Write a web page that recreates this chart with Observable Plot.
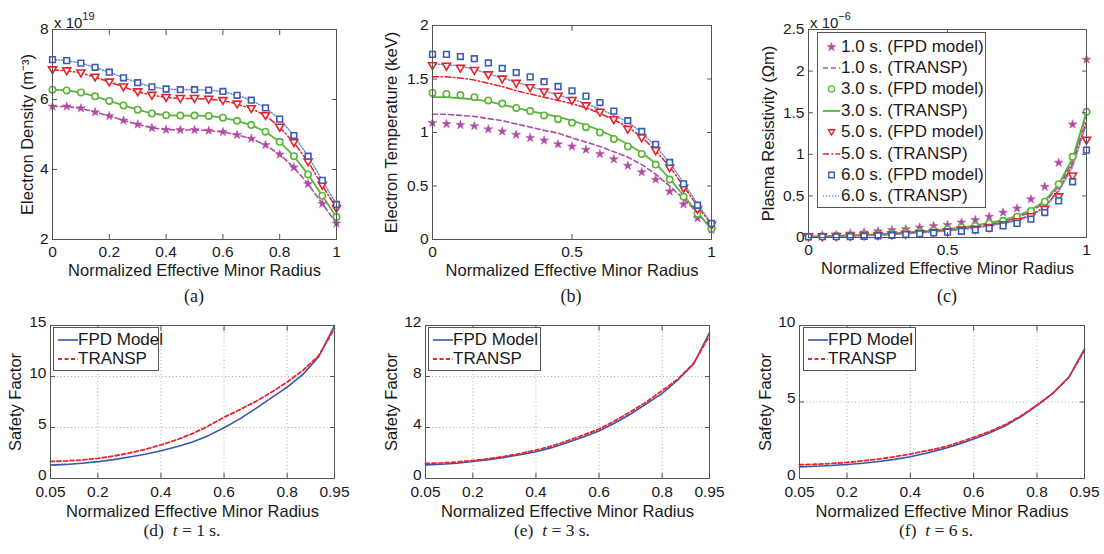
<!DOCTYPE html>
<html><head><meta charset="utf-8">
<script src="https://cdn.jsdelivr.net/npm/d3@7"></script>
<script src="https://cdn.jsdelivr.net/npm/@observablehq/plot@0.6"></script>
<style>
body{margin:0;background:#fff;}
#root{position:relative;width:1104px;height:554px;overflow:hidden;font-family:"Liberation Sans",Arial,Helvetica,sans-serif;color:#1a1a1a;}
.cap{position:absolute;font-family:"Liberation Serif","Times New Roman",serif;font-size:18px;transform:translate(-50%,-50%);white-space:nowrap;}
.exp{position:absolute;font-size:15px;white-space:nowrap;line-height:1;}
.exp sup{font-size:11px;position:relative;top:-2px;}
.legend{position:absolute;border:1px solid #555;background:#fff;box-sizing:border-box;font-size:17px;}
.legend .row{display:flex;align-items:center;white-space:nowrap;}
.legend svg{flex:none;}
</style></head><body><div id="root"></div><script>
// ---------- data ----------
const radius = [0,0.05,0.1,0.15,0.2,0.25,0.3,0.35,0.4,0.45,0.5,0.55,0.6,0.65,0.7,0.75,0.8,0.85,0.9,0.95,1];
const radiusQ = [0.05,0.1,0.15,0.2,0.25,0.3,0.35,0.4,0.45,0.5,0.55,0.6,0.65,0.7,0.75,0.8,0.85,0.9,0.95];

// (a) electron density, x 1e19 m^-3
const dens1 = [5.80,5.80,5.75,5.64,5.53,5.40,5.29,5.19,5.14,5.13,5.13,5.11,5.07,4.99,4.88,4.70,4.43,4.06,3.59,3.02,2.46];
const dens3 = [6.28,6.26,6.20,6.09,5.96,5.83,5.71,5.60,5.55,5.54,5.54,5.53,5.48,5.39,5.27,5.08,4.79,4.38,3.86,3.25,2.64];
const dens5 = [6.85,6.82,6.76,6.64,6.50,6.36,6.22,6.12,6.06,6.03,6.03,6.01,5.97,5.87,5.74,5.54,5.21,4.77,4.22,3.55,2.89];
const dens6 = [7.14,7.11,7.04,6.92,6.78,6.62,6.48,6.36,6.30,6.28,6.28,6.27,6.23,6.12,5.98,5.76,5.44,4.97,4.38,3.69,3.00];

// (b) electron temperature, keV
const temp1 = [1.09,1.08,1.07,1.06,1.03,1.01,0.98,0.95,0.925,0.89,0.87,0.84,0.80,0.75,0.69,0.63,0.56,0.45,0.33,0.20,0.09];
const temp3 = [1.37,1.36,1.35,1.33,1.30,1.27,1.23,1.20,1.16,1.125,1.09,1.05,1.00,0.94,0.87,0.80,0.70,0.56,0.40,0.24,0.10];
const temp5 = [1.625,1.62,1.60,1.58,1.54,1.50,1.46,1.42,1.38,1.34,1.30,1.25,1.19,1.12,1.03,0.95,0.83,0.67,0.48,0.28,0.135];
const temp6 = [1.73,1.73,1.71,1.69,1.65,1.60,1.56,1.52,1.475,1.43,1.39,1.34,1.28,1.20,1.11,1.01,0.89,0.72,0.52,0.32,0.15];
const tempT1 = [1.17,1.17,1.16,1.15,1.13,1.11,1.08,1.05,1.02,0.995,0.95,0.91,0.87,0.82,0.77,0.70,0.61,0.50,0.38,0.25,0.10];
const tempT3 = [1.33,1.33,1.32,1.31,1.29,1.26,1.23,1.20,1.175,1.145,1.11,1.07,1.02,0.96,0.89,0.81,0.71,0.57,0.41,0.25,0.10];
const tempT5 = [1.52,1.52,1.51,1.49,1.46,1.43,1.39,1.36,1.33,1.30,1.27,1.23,1.18,1.12,1.05,0.96,0.83,0.68,0.50,0.31,0.14];
const tempT6 = [1.64,1.635,1.62,1.59,1.55,1.51,1.47,1.43,1.39,1.35,1.31,1.27,1.22,1.16,1.10,1.00,0.87,0.72,0.53,0.33,0.15];

// (c) plasma resistivity, x 1e-6 Ohm m
const res1 = [0.01,0.025,0.03,0.05,0.06,0.075,0.09,0.10,0.12,0.14,0.15,0.18,0.21,0.25,0.30,0.35,0.46,0.61,0.90,1.36,2.14];
const res3 = [0.01,0.015,0.02,0.025,0.03,0.04,0.05,0.06,0.07,0.085,0.10,0.12,0.14,0.17,0.20,0.25,0.32,0.43,0.64,0.97,1.51];
const res5 = [0.01,0.01,0.012,0.015,0.02,0.025,0.03,0.04,0.05,0.06,0.07,0.09,0.10,0.12,0.155,0.19,0.25,0.34,0.49,0.74,1.17];
const res6 = [0.01,0.01,0.01,0.012,0.015,0.02,0.025,0.035,0.045,0.055,0.065,0.075,0.09,0.11,0.14,0.17,0.22,0.30,0.44,0.67,1.05];
const resT1 = [0.01,0.015,0.02,0.025,0.03,0.035,0.045,0.055,0.065,0.08,0.095,0.11,0.135,0.16,0.19,0.24,0.31,0.42,0.61,0.92,1.48];
const resT3 = [0.01,0.015,0.02,0.025,0.03,0.04,0.05,0.06,0.07,0.085,0.10,0.12,0.145,0.175,0.21,0.26,0.33,0.44,0.64,0.95,1.51];
const resT5 = [0.01,0.012,0.015,0.02,0.025,0.03,0.04,0.05,0.06,0.07,0.085,0.10,0.12,0.145,0.175,0.21,0.27,0.37,0.57,0.88,1.40];
const resT6 = [0.01,0.012,0.015,0.018,0.022,0.027,0.035,0.045,0.055,0.065,0.08,0.095,0.115,0.14,0.17,0.20,0.26,0.36,0.55,0.85,1.36];

// (d)-(f) safety factor
const qFPD1 = [1.31,1.38,1.5,1.65,1.85,2.1,2.38,2.72,3.12,3.58,4.2,4.98,5.85,6.85,7.9,8.95,10.2,11.95,15.0];
const qTR1  = [1.67,1.72,1.82,1.97,2.2,2.5,2.85,3.3,3.8,4.4,5.15,6.0,6.75,7.55,8.45,9.45,10.6,12.05,14.7];
const qFPD3 = [1.07,1.12,1.2,1.33,1.48,1.66,1.86,2.1,2.42,2.82,3.25,3.72,4.35,5.06,5.85,6.68,7.73,8.99,11.45];
const qTR3  = [1.18,1.22,1.3,1.41,1.55,1.73,1.96,2.22,2.55,2.96,3.4,3.88,4.52,5.24,6.0,6.89,7.8,9.04,11.2];
const qFPD6 = [0.76,0.8,0.85,0.92,1.0,1.11,1.25,1.42,1.65,1.92,2.22,2.58,2.98,3.45,4.05,4.76,5.57,6.6,8.47];
const qTR6  = [0.9,0.93,0.98,1.05,1.15,1.27,1.42,1.6,1.8,2.03,2.33,2.69,3.07,3.52,4.1,4.8,5.57,6.6,8.36];

// ticks
const ticksA_x = [0,0.2,0.4,0.6,0.8,1], ticksA_y = [2,4,6,8];
const ticksB_x = [0,0.5,1], ticksB_y = [0,0.5,1,1.5,2];
const ticksC_x = [0,0.5,1], ticksC_y = [0,0.5,1,1.5,2,2.5];
const ticksQ_x = [0.05,0.2,0.4,0.6,0.8,0.95];
const ticksD_y = [0,5,10,15], ticksE_y = [0,4,8,12], ticksF_y = [0,5,10];

const legendLabels = ["1.0 s. (FPD model)","1.0 s. (TRANSP)","3.0 s. (FPD model)","3.0 s. (TRANSP)","5.0 s. (FPD model)","5.0 s. (TRANSP)","6.0 s. (FPD model)","6.0 s. (TRANSP)"];
const qLegend = ["FPD Model","TRANSP"];

// ---------- styles ----------
const FONT = '"Liberation Sans", Arial, Helvetica, sans-serif';
const cMag = "#b24aa6", cGrn = "#5bb53a", cRed = "#e6222a", cBlu = "#3b5cb5", cBluDot = "#6f8fd8";
const qBlue = "#3a55ac", qRed = "#e8262c";
const triDown = {draw(ctx, size){ const r = Math.sqrt(size/Math.PI); ctx.moveTo(-r,-0.72*r); ctx.lineTo(r,-0.72*r); ctx.lineTo(0,0.98*r); ctx.closePath(); }};
const series = [
  {color:cMag, symbol:"star", dash:"5,3", lw:1.6},
  {color:cGrn, symbol:"circle", dash:null, lw:1.8},
  {color:cRed, symbol:triDown, dash:"6,2.5,1.5,2.5", lw:1.5},
  {color:cBlu, symbol:"square", dash:"1.2,1.8", lw:1.5, lineColor:cBluDot}
];
const fmt = d => String(d);
const zip = (xs, ys) => xs.map((x,i)=>({x, y:ys[i]}));
function dotMark(data, s){
  if (s.symbol === "star") return Plot.dot(data, {x:"x", y:"y", symbol:"star", r:2.8, fill:s.color, stroke:s.color, strokeWidth:0.5});
  return Plot.dot(data, {x:"x", y:"y", symbol:s.symbol, r:s.symbol==="square"?3.2:(s.symbol==="circle"?3.2:4), fill:"white", stroke:s.color, strokeWidth:1.6});
}
function lineMark(data, s){
  return Plot.line(data, {x:"x", y:"y", stroke:s.lineColor||s.color, strokeWidth:s.lw, strokeDasharray:s.dash||undefined, curve:"linear"});
}

const root = document.getElementById("root");
function panel(cfg){
  const {left, top, width, height, mL, mR, mT, mB, xDomain, yDomain, xTicks, yTicks, xLabel, yLabel, yLabelDx, grid, marks} = cfg;
  const xPad = cfg.xPad ?? 11, yDy = cfg.yDy ?? 0, labDy = cfg.labDy ?? 31.5;
  const gridMarks = grid ? [
    Plot.gridX({ticks:xTicks, stroke:"#8a8a8a", strokeOpacity:0.9, strokeDasharray:"1,2.5", strokeWidth:0.8}),
    Plot.gridY({ticks:yTicks, stroke:"#8a8a8a", strokeOpacity:0.9, strokeDasharray:"1,2.5", strokeWidth:0.8})
  ] : [];
  const chart = Plot.plot({
    width, height, marginLeft:mL, marginRight:mR, marginTop:mT, marginBottom:mB,
    style:{fontFamily:FONT, fontSize:"15px", color:"#1a1a1a", background:"transparent", overflow:"visible"},
    x:{domain:xDomain}, y:{domain:yDomain},
    marks:[
      ...gridMarks,
      ...marks,
      Plot.frame({stroke:"#555", strokeWidth:1}),
      Plot.axisX({ticks:xTicks, anchor:"bottom", tickSize:-5, tickPadding:xPad, tickFormat:fmt, label:null, fontSize:15.5, stroke:"#555"}),
      Plot.axisX({ticks:xTicks, anchor:"top", tickSize:-5, tickFormat:()=>"", label:null, stroke:"#555"}),
      Plot.axisY({ticks:yTicks, anchor:"left", tickSize:-5, tickFormat:()=>"", label:null, stroke:"#555"}),
      Plot.axisY({ticks:yTicks, anchor:"left", tickSize:0, tickPadding:4, tickFormat:fmt, label:null, fontSize:15.5, dy:yDy}),
      Plot.axisY({ticks:yTicks, anchor:"right", tickSize:-5, tickFormat:()=>"", label:null, stroke:"#555"}),
      Plot.text([xLabel], {frameAnchor:"bottom", dy:labDy, text:d=>d, fontSize:16.5, textAnchor:"middle", lineAnchor:"middle", fill:"#1a1a1a"}),
      Plot.text([yLabel], {frameAnchor:"left", dx:-yLabelDx, rotate:-90, text:d=>d, fontSize:16.5, textAnchor:"middle", lineAnchor:"middle", fill:"#1a1a1a"})
    ]
  });
  chart.style.position = "absolute";
  chart.style.left = left + "px";
  chart.style.top = top + "px";
  root.appendChild(chart);
}
function addHTML(html){ const d = document.createElement("div"); d.innerHTML = html; while (d.firstChild) root.appendChild(d.firstChild); }

const XLAB = "Normalized Effective Minor Radius";

// (a)
const densFPD = [dens1, dens3, dens5, dens6];
panel({left:0, top:0, width:370, height:300, mL:52, mR:34, mT:29, mB:61,
  xDomain:[0,1], yDomain:[2,8], xTicks:ticksA_x, yTicks:ticksA_y,
  xLabel:XLAB, yLabel:"Electron Density (m\u207B\u00B3)", yLabelDx:25,
  marks:[...densFPD.map((a,i)=>lineMark(zip(radius,a), series[i])), ...densFPD.map((a,i)=>dotMark(zip(radius,a), series[i]))]});

// (b)
const tempFPD = [temp1, temp3, temp5, temp6], tempTR = [tempT1, tempT3, tempT5, tempT6];
panel({left:370, top:0, width:370, height:300, mL:62, mR:29, mT:25, mB:61,
  xDomain:[0,1], yDomain:[0,2], xTicks:ticksB_x, yTicks:ticksB_y,
  xLabel:XLAB, yLabel:"Electron Temperature (keV)", yLabelDx:41,
  marks:[...tempTR.map((a,i)=>lineMark(zip(radius,a), series[i])), ...tempFPD.map((a,i)=>dotMark(zip(radius,a), series[i]))]});

// (c)
const resFPD = [res1, res3, res5, res6], resTR = [resT1, resT3, resT5, resT6];
panel({left:740, top:0, width:364, height:300, mL:68, mR:18, mT:29, mB:63,
  xDomain:[0,1], yDomain:[0,2.5], xTicks:ticksC_x, yTicks:ticksC_y,
  xLabel:XLAB, yLabel:"Plasma Resistivity (\u03A9m)", yLabelDx:40,
  marks:[...resTR.map((a,i)=>lineMark(zip(radius,a), series[i])), ...resFPD.map((a,i)=>dotMark(zip(radius,a), series[i]))]});

// (d)-(f)
function qMarks(fpd, tr){
  return [
    Plot.line(zip(radiusQ, fpd), {x:"x", y:"y", stroke:qBlue, strokeWidth:1.6}),
    Plot.line(zip(radiusQ, tr), {x:"x", y:"y", stroke:qRed, strokeWidth:1.8, strokeDasharray:"4,2.5"})
  ];
}
const bottomOpts = {top:310, height:244, mT:15, mB:76, xDomain:[0.05,0.95], xTicks:ticksQ_x, grid:true, xLabel:XLAB, yLabel:"Safety Factor", xPad:12, yDy:-3.5, labDy:33};
panel({...bottomOpts, left:0, width:370, mL:50, mR:36, yDomain:[0,15], yTicks:ticksD_y, yLabelDx:35, marks:qMarks(qFPD1, qTR1)});
panel({...bottomOpts, left:370, width:370, mL:55, mR:31, yDomain:[0,12], yTicks:ticksE_y, yLabelDx:34, marks:qMarks(qFPD3, qTR3)});
panel({...bottomOpts, left:735, width:369, mL:64, mR:20, yDomain:[0,10], yTicks:ticksF_y, yLabelDx:34, marks:qMarks(qFPD6, qTR6)});

// exponent labels
addHTML('<div class="exp" style="left:54px;top:13px;">x 10<sup>19</sup></div>');
addHTML('<div class="exp" style="left:810px;top:13px;">x 10<sup>\u22126</sup></div>');

// legend (c)
function sampleSVG(s, isLine, w){
  if (isLine) {
    return `<svg width="${w}" height="12"><line x1="0" y1="6" x2="${w}" y2="6" stroke="${s.lineColor||s.color}" stroke-width="${s.lw}" ${s.dash?`stroke-dasharray="${s.dash}"`:""}/></svg>`;
  }
  const sym = s.symbol === "star" ? d3.symbolStar : s.symbol === "circle" ? d3.symbolCircle : s.symbol === "square" ? d3.symbolSquare : s.symbol;
  const size = s.symbol === "star" ? 24 : 30;
  const path = d3.symbol(sym, size)();
  const fill = s.symbol === "star" ? s.color : "white";
  return `<svg width="${w}" height="12"><path transform="translate(${w/2},6)" d="${path}" fill="${fill}" stroke="${s.color}" stroke-width="${s.symbol==="star"?0.5:1.4}"/></svg>`;
}
let lg = '<div class="legend" style="left:817px;top:32px;width:169px;height:176px;padding:3px 0 0 5px;">';
legendLabels.forEach((lab,i)=>{
  const s = series[Math.floor(i/2)];
  lg += `<div class="row" style="height:21.4px;">${sampleSVG(s, i%2===1, 17)}<span style="margin-left:1px;">${lab}</span></div>`;
});
lg += '</div>';
addHTML(lg);

// legends (d)-(f)
function qLegendHTML(left, width){
  let h = `<div class="legend" style="left:${left}px;top:327px;width:${width}px;height:44px;padding:2px 0 0 4px;">`;
  h += `<div class="row" style="height:19.5px;"><svg width="20" height="10"><line x1="0" y1="5" x2="20" y2="5" stroke="${qBlue}" stroke-width="1.6"/></svg><span>${qLegend[0]}</span></div>`;
  h += `<div class="row" style="height:19.5px;"><svg width="20" height="10"><line x1="0" y1="5" x2="20" y2="5" stroke="${qRed}" stroke-width="1.8" stroke-dasharray="4,2.5"/></svg><span>${qLegend[1]}</span></div>`;
  return h + '</div>';
}
addHTML(qLegendHTML(53, 106));
addHTML(qLegendHTML(428, 113));
addHTML(qLegendHTML(803, 113));

// captions
addHTML('<div class="cap" style="left:194px;top:296px;">(a)</div>');
addHTML('<div class="cap" style="left:571px;top:296px;">(b)</div>');
addHTML('<div class="cap" style="left:947px;top:296px;">(c)</div>');
addHTML('<div class="cap" style="left:182px;top:530px;font-size:17.5px;">(d)&nbsp; <i>t</i> = 1 s.</div>');
addHTML('<div class="cap" style="left:552px;top:530px;font-size:17.5px;">(e)&nbsp; <i>t</i> = 3 s.</div>');
addHTML('<div class="cap" style="left:936px;top:530px;font-size:17.5px;">(f)&nbsp; <i>t</i> = 6 s.</div>');
</script></body></html>
